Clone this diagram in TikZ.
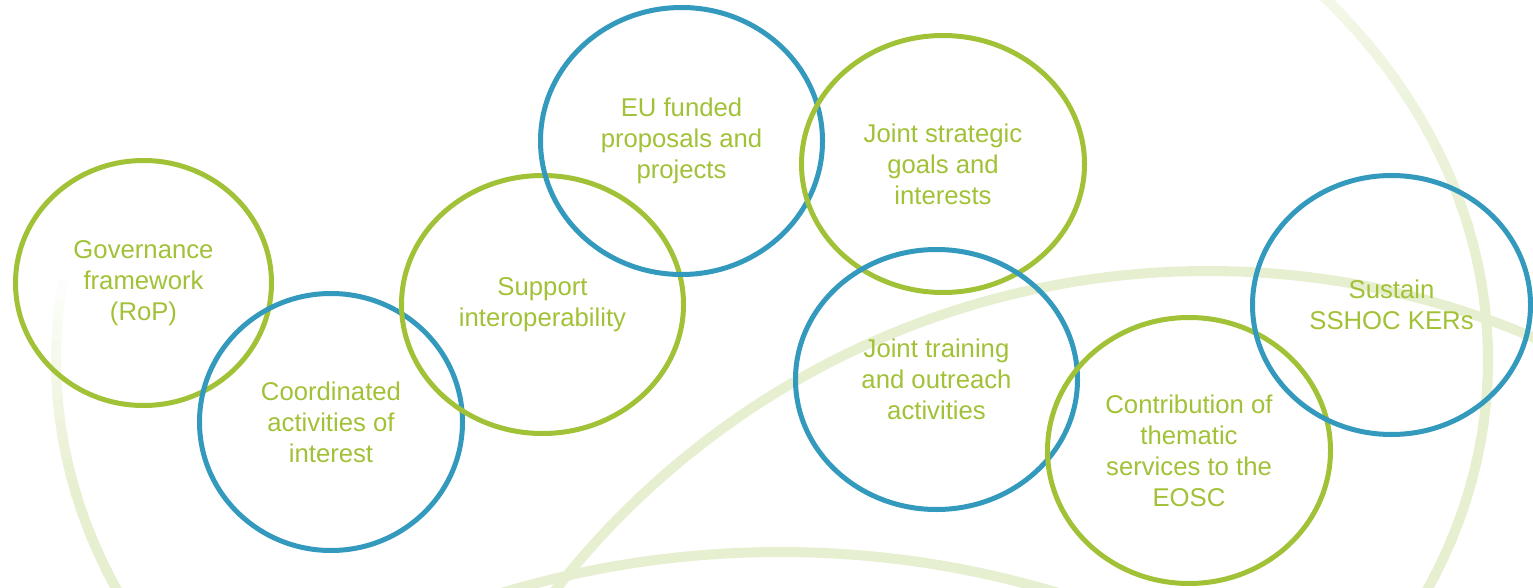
\documentclass[tikz,border=0pt]{standalone}
\usepackage{fontspec}
\setmainfont{Liberation Sans}
\usetikzlibrary{shapes.geometric}
\definecolor{ringgreen}{RGB}{161,193,55}
\definecolor{ringblue}{RGB}{51,154,190}
\definecolor{arcgreen}{RGB}{230,239,207}
\tikzset{
  ring/.style={ellipse, draw, line width=5pt, inner sep=0pt, align=center,
    text=ringgreen, font=\fontsize{25.7}{31}\selectfont,
    execute at begin node={\rule{0pt}{22.5pt}}},
  greenring/.style={ring, draw=ringgreen},
  bluering/.style={ring, draw=ringblue},
  bgarc/.style={line width=10pt, draw=arcgreen}
}
\begin{document}
\begin{tikzpicture}[x=1pt, y=-1pt]
\useasboundingbox (0,0) rectangle (1533,588);
\begin{scope}
\clip (0,0) rectangle (1533,588);
% Hintergrundboegen:
\foreach \t [evaluate=\t as \p using {int(max(0,min(100,(188-\t)*100/22)))}] in {146,148,...,190}
  \draw[bgarc, draw=arcgreen!\p!white] plot[domain=\t:\t+2.6, samples=4] ({772+716*cos(\x)},{360+570*sin(\x)});
\foreach \t [evaluate=\t as \p using {int(max(50,min(100,100+(\t+10)*50/30)))}] in {-46,-44,...,28}
  \draw[bgarc, draw=arcgreen!\p!white] plot[domain=\t:\t+2.6, samples=4] ({772+716*cos(\x)},{360+570*sin(\x)});
\draw[bgarc] (1208,1098) circle[radius=827];
\draw[bgarc] (780,1512) circle[radius=960];
\end{scope}
% Kreise links:
\node[greenring, minimum width=256, minimum height=245] (gov) at (143.5,283) {Governance\\framework\\(RoP)};
\node[bluering, minimum width=263, minimum height=257] (coord) at (331,422) {Coordinated\\activities of\\interest};
\node[greenring, minimum width=282, minimum height=258] (support) at (542.5,304.5) {Support\\interoperability};
% Kreise Mitte:
\node[bluering, minimum width=282, minimum height=267] (eufund) at (681.5,141) {EU funded\\proposals and\\projects};
\node[greenring, minimum width=283, minimum height=257] (jstrat) at (943,164) {Joint strategic\\goals and\\interests};
\node[bluering, minimum width=282, minimum height=260] (jtrain) at (936.5,379.5) {Joint training\\and outreach\\activities};
% Kreise rechts:
\node[greenring, minimum width=283, minimum height=266] (contrib) at (1189,450.5) {Contribution of\\thematic\\services to the\\EOSC};
\node[bluering, minimum width=278, minimum height=259] (sustain) at (1391.5,305) {Sustain\\SSHOC KERs};
\end{tikzpicture}
\end{document}
